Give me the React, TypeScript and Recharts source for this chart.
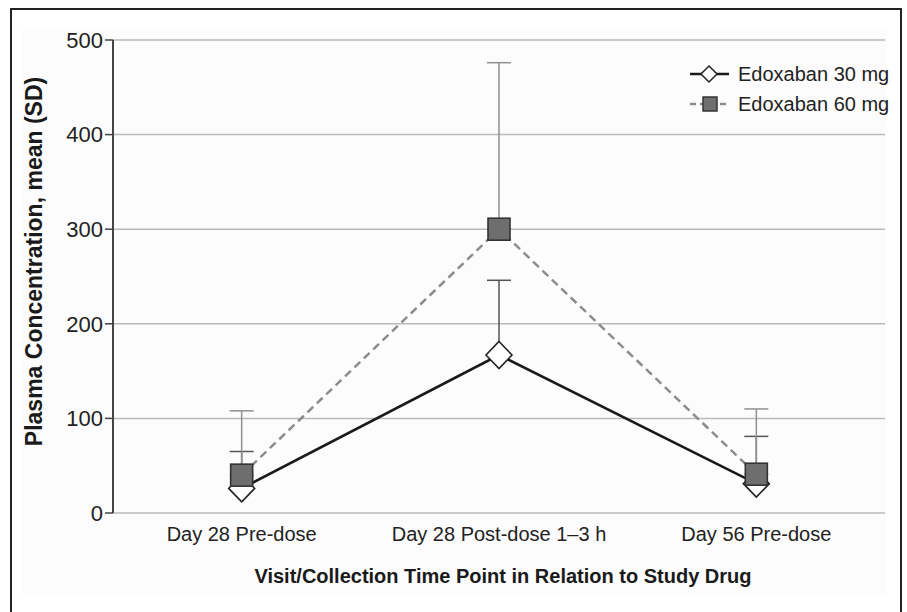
import { CartesianGrid, ErrorBar, Legend, Line, LineChart, XAxis, YAxis } from 'recharts';

const categories = ['Day 28 Pre-dose', 'Day 28 Post-dose 1–3 h', 'Day 56 Pre-dose'];
const mean30 = [26, 167, 31];
const sd30 = [39, 79, 50];
const mean60 = [40, 300, 41];
const sd60 = [68, 176, 69];
const yTicks = [0, 100, 200, 300, 400, 500];
const seriesNames = ['Edoxaban 30 mg', 'Edoxaban 60 mg'];

const data = categories.map((name, i) => ({
  idx: i,
  name,
  m30: mean30[i],
  m60: mean60[i],
  e30: [0, sd30[i]],
  e60: [0, sd60[i]]
}));

const centerTicks = categories.map((_, i) => i);
const boundaryTicks = [...categories.map((_, i) => i - 0.5), categories.length - 0.5];

const FONT = '"Liberation Sans", Arial, sans-serif';

function Diamond({ cx, cy }: { cx?: number; cy?: number }) {
  if (cx == null || cy == null) return null;
  return <polygon fill="#ffffff" points={`${cx},${cy - 13.5} ${cx + 13},${cy} ${cx},${cy + 13.5} ${cx - 13},${cy}`} stroke="#222" strokeWidth={1.6} />;
}

function Square({ cx, cy }: { cx?: number; cy?: number }) {
  if (cx == null || cy == null) return null;
  return <rect fill="#6e6e6e" height={22} stroke="#333" strokeWidth={1.6} width={22} x={cx - 11} y={cy - 11} />;
}

function LegendBox() {
  return (
    <div style={{ fontFamily: FONT, fontSize: 20, color: '#222' }}>
      <div style={{ display: 'flex', alignItems: 'center', height: 30 }}>
        <svg height={30} width={42}>
          <line stroke="#1a1a1a" strokeWidth={2.5} x1={2} x2={41} y1={15} y2={15} />
          <polygon fill="#fff" points="21,7 29,15 21,23 13,15" stroke="#222" strokeWidth={1.5} />
        </svg>
        <span style={{ marginLeft: 8 }}>{seriesNames[0]}</span>
      </div>
      <div style={{ display: 'flex', alignItems: 'center', height: 30 }}>
        <svg height={30} width={42}>
          <line stroke="#8c8c8c" strokeDasharray="6 4" strokeWidth={2.5} x1={2} x2={41} y1={15} y2={15} />
          <rect fill="#6e6e6e" height={14} stroke="#333" strokeWidth={1.5} width={14} x={15} y={8} />
        </svg>
        <span style={{ marginLeft: 8 }}>{seriesNames[1]}</span>
      </div>
    </div>
  );
}

export default function App() {
  return (
    <div style={{ position: 'relative', width: 907, height: 612, overflow: 'hidden', background: '#fff' }}>
      <style>{'body{margin:0}'}</style>
      <div style={{ position: 'absolute', left: 23, top: 28, width: 864, height: 568, background: '#fcfcfc' }} />
      <div style={{ position: 'absolute', left: 10, top: 8, width: 888, height: 640, border: '2px solid #222' }} />
      <div style={{ position: 'absolute', left: 0, top: 0 }}>
        <LineChart data={data} height={612} margin={{ top: 40, right: 22, left: 0, bottom: 24 }} width={907}>
          <CartesianGrid horizontal stroke="#bababa" strokeWidth={1.5} vertical={false} />
          <XAxis
            allowDataOverflow
            axisLine={{ stroke: '#666', strokeWidth: 2.5 }}
            domain={[-0.5, categories.length - 0.5]}
            height={0}
            tick={false}
            tickLine={{ stroke: '#666', strokeWidth: 1.5 }}
            tickSize={7}
            ticks={boundaryTicks}
            type="number"
            xAxisId="bounds"
          />
          <XAxis
            allowDataOverflow
            axisLine={false}
            dataKey="idx"
            domain={[-0.5, categories.length - 0.5]}
            height={75}
            label={{ value: 'Visit/Collection Time Point in Relation to Study Drug', position: 'insideBottom', offset: 5, dx: 4, fill: '#1a1a1a', fontSize: 20, fontWeight: 700, fontFamily: FONT }}
            tick={{ fill: '#222', fontSize: 20, fontFamily: FONT }}
            tickFormatter={(v: number) => categories[v] ?? ''}
            tickLine={false}
            tickMargin={14}
            tickSize={0}
            ticks={centerTicks}
            type="number"
          />
          <YAxis
            axisLine={{ stroke: '#444', strokeWidth: 2 }}
            domain={[0, 500]}
            label={({ viewBox }: any) => (
              <text fill="#1a1a1a" fontFamily={FONT} fontSize={23} fontWeight={700} textAnchor="middle" transform={`rotate(-90 ${viewBox.x + 42} ${viewBox.y + viewBox.height / 2 - 15})`} x={viewBox.x + 42} y={viewBox.y + viewBox.height / 2 - 15}>
                Plasma Concentration, mean (SD)
              </text>
            )}
            tick={{ fill: '#222', fontSize: 22, fontFamily: FONT }}
            tickLine={{ stroke: '#444', strokeWidth: 1.5 }}
            tickMargin={2}
            tickSize={8}
            ticks={yTicks}
            type="number"
            width={113}
          />
          <Legend align="center" content={<LegendBox />} layout="vertical" verticalAlign="middle" wrapperStyle={{ top: 59, left: 688, width: 215 }} />
          <Line activeDot={false} dataKey="m30" dot={(p: any) => <Diamond cx={p.cx} cy={p.cy} key={`d30-${p.index}`} />} isAnimationActive={false} name={seriesNames[0]} stroke="#1a1a1a" strokeWidth={2.5} type="linear">
            <ErrorBar dataKey="e30" direction="y" isAnimationActive={false} stroke="#555" strokeWidth={1.5} width={12} />
          </Line>
          <Line activeDot={false} dataKey="m60" dot={(p: any) => <Square cx={p.cx} cy={p.cy} key={`d60-${p.index}`} />} isAnimationActive={false} name={seriesNames[1]} stroke="#8c8c8c" strokeDasharray="8 5" strokeWidth={2.5} type="linear">
            <ErrorBar dataKey="e60" direction="y" isAnimationActive={false} stroke="#909090" strokeWidth={1.5} width={12} />
          </Line>
        </LineChart>
      </div>
    </div>
  );
}
